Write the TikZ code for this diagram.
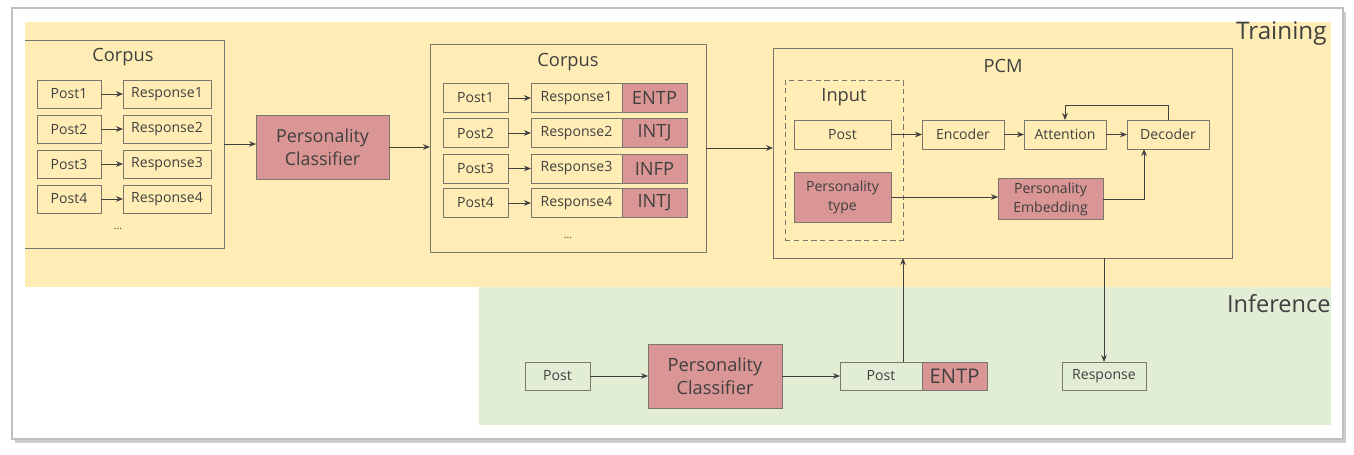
\documentclass[tikz,border=0pt]{standalone}
\usepackage{fontspec}
\setmainfont{Open Sans}
\usetikzlibrary{arrows.meta}

\begin{document}
\begin{tikzpicture}[x=0.02cm,y=-0.02cm,line width=0.55pt,color=black!75,
    >={Stealth[length=4pt,width=3.2pt]},
    box/.style={draw=boxgray,text=txtgray,font=\fontsize{8}{10.7}\selectfont,inner sep=1pt,outer sep=0pt,align=center},
    redbox/.style={box,fill=redfill},
    title/.style={text=txtgray,font=\fontsize{10.4}{13}\selectfont,inner sep=0pt}]

    \definecolor{trainyellow}{RGB}{255,237,181}
    \definecolor{infergreen}{RGB}{226,237,213}
    \definecolor{redfill}{RGB}{217,150,148}
    \definecolor{boxgray}{RGB}{120,120,110}
    \definecolor{txtgray}{RGB}{64,64,64}

    % Page frame with shadow
    \useasboundingbox (0,0) rectangle (1354,454);
    \fill[gray!40] (15,12) rectangle (1346,443);
    \filldraw[fill=white,draw=gray!50,line width=1.2pt] (12,8) rectangle (1343,439);

    % Training and inference areas
    \fill[trainyellow] (25,22) rectangle (1331,287);
    \fill[infergreen] (479,287) rectangle (1331,425);
    \node[anchor=east,inner sep=0pt,text=txtgray,font=\fontsize{13.8}{16}\selectfont] (trainLabel) at (1327,34) {Training};
    \node[anchor=east,inner sep=0pt,text=txtgray,font=\fontsize{13.4}{16}\selectfont] (inferLabel) at (1331,304) {Inference};

    % Corpus before classification
    \node[minimum width=3.98cm,minimum height=4.16cm,outer sep=0pt] (corpusA) at (124.5,144) {};
    \draw[boxgray] (corpusA.north west) -- (corpusA.north east) -- (corpusA.south east) -- (corpusA.south west);
    \node[title] (corpusAtitle) at (123,57) {Corpus};
    \node[box,minimum width=1.28cm,minimum height=0.56cm] (postA1) at (69,94) {Post1};
    \node[box,minimum width=1.76cm,minimum height=0.56cm] (respA1) at (167,94) {Response1};
    \node[box,minimum width=1.28cm,minimum height=0.56cm] (postA2) at (69,129) {Post2};
    \node[box,minimum width=1.76cm,minimum height=0.56cm] (respA2) at (167,129) {Response2};
    \node[box,minimum width=1.28cm,minimum height=0.56cm] (postA3) at (69,164) {Post3};
    \node[box,minimum width=1.76cm,minimum height=0.56cm] (respA3) at (167,164) {Response3};
    \node[box,minimum width=1.28cm,minimum height=0.56cm] (postA4) at (69,199) {Post4};
    \node[box,minimum width=1.76cm,minimum height=0.56cm] (respA4) at (167,199) {Response4};
    \draw[->] (postA1) -- (respA1);
    \draw[->] (postA2) -- (respA2);
    \draw[->] (postA3) -- (respA3);
    \draw[->] (postA4) -- (respA4);
    \node[text=txtgray,font=\fontsize{6}{7}\selectfont] (moreA) at (118,229) {...};

    % Classifier (training)
    \node[redbox,minimum width=2.66cm,minimum height=1.28cm,font=\fontsize{10.2}{13.3}\selectfont] (clsTrain) at (322.5,147) {Personality\\Classifier};

    % Corpus with personality labels
    \node[draw=boxgray,minimum width=5.52cm,minimum height=4.16cm,outer sep=0pt] (corpusB) at (568,148) {};
    \node[title] (corpusBtitle) at (568,62) {Corpus};
    \node[box,minimum width=1.3cm,minimum height=0.58cm] (postB1) at (475.5,98) {Post1};
    \node[box,minimum width=1.82cm,minimum height=0.58cm] (respB1) at (576.5,98) {Response1};
    \node[redbox,minimum width=1.3cm,minimum height=0.58cm,font=\fontsize{10.4}{12}\selectfont] (typeB1) at (654.5,98) {ENTP};
    \node[box,minimum width=1.3cm,minimum height=0.58cm] (postB2) at (475.5,133) {Post2};
    \node[box,minimum width=1.82cm,minimum height=0.58cm] (respB2) at (576.5,133) {Response2};
    \node[redbox,minimum width=1.3cm,minimum height=0.58cm,font=\fontsize{10.4}{12}\selectfont] (typeB2) at (654.5,133) {INTJ};
    \node[box,minimum width=1.3cm,minimum height=0.58cm] (postB3) at (475.5,168.5) {Post3};
    \node[box,minimum width=1.82cm,minimum height=0.58cm] (respB3) at (576.5,168.5) {Response3};
    \node[redbox,minimum width=1.3cm,minimum height=0.58cm,font=\fontsize{10.4}{12}\selectfont] (typeB3) at (654.5,168.5) {INFP};
    \node[box,minimum width=1.3cm,minimum height=0.58cm] (postB4) at (475.5,203) {Post4};
    \node[box,minimum width=1.82cm,minimum height=0.58cm] (respB4) at (576.5,203) {Response4};
    \node[redbox,minimum width=1.3cm,minimum height=0.58cm,font=\fontsize{10.4}{12}\selectfont] (typeB4) at (654.5,203) {INTJ};
    \draw[->] (postB1) -- (respB1);
    \draw[->] (postB2) -- (respB2);
    \draw[->] (postB3) -- (respB3);
    \draw[->] (postB4) -- (respB4);
    \node[text=txtgray,font=\fontsize{6}{7}\selectfont] (moreB) at (568,238) {...};

    % PCM model
    \node[draw=boxgray,minimum width=9.2cm,minimum height=4.2cm,outer sep=0pt] (pcm) at (1003,153) {};
    \node[title] (pcmTitle) at (1003,66) {PCM};
    \node[draw=boxgray,dash pattern=on 3pt off 2pt,minimum width=2.36cm,minimum height=3.2cm] (input) at (844,160) {};
    \node[title] (inputTitle) at (844,97) {Input};
    \node[box,minimum width=1.94cm,minimum height=0.58cm] (postIn) at (842.5,134.5) {Post};
    \node[box,minimum width=1.64cm,minimum height=0.58cm] (encoder) at (963,134.5) {Encoder};
    \node[box,minimum width=1.64cm,minimum height=0.58cm] (attention) at (1065,134.5) {Attention};
    \node[box,minimum width=1.64cm,minimum height=0.58cm] (decoder) at (1168,134.5) {Decoder};
    \node[redbox,minimum width=1.94cm,minimum height=1.0cm] (ptype) at (842.5,197) {Personality\\type};
    \node[redbox,minimum width=2.1cm,minimum height=0.82cm] (pemb) at (1050.5,199) {Personality\\Embedding};
    \draw[->] (postIn) -- (encoder);
    \draw[->] (encoder) -- (attention);
    \draw[->] (attention) -- (decoder);
    \draw[->] (decoder.north) -- ++(0,-15) -| (attention.north);
    \draw[->] (ptype.east) -- (ptype.east -| pemb.west);
    \draw[->] (pemb.east) -| ([xshift=-0.48cm]decoder.south);

    % Training flow
    \draw[->] (corpusA.east) -- (corpusA.east -| clsTrain.west);
    \draw[->] (clsTrain.east) -- (clsTrain.east -| corpusB.west);
    \draw[->] (corpusB.east) -- (corpusB.east -| pcm.west);

    % Inference flow
    \node[box,minimum width=1.3cm,minimum height=0.56cm] (postInf) at (557.5,376) {Post};
    \node[redbox,minimum width=2.68cm,minimum height=1.28cm,font=\fontsize{10.4}{13}\selectfont] (clsInfer) at (715,376) {Personality\\Classifier};
    \node[box,minimum width=1.64cm,minimum height=0.56cm] (postTag) at (881,376) {Post};
    \node[redbox,minimum width=1.3cm,minimum height=0.56cm,font=\fontsize{11.5}{13}\selectfont] (entpInf) at (954.5,376) {ENTP};
    \node[box,minimum width=1.68cm,minimum height=0.56cm] (resp) at (1104,376) {Response};
    \draw[->] (postInf) -- (clsInfer);
    \draw[->] (clsInfer) -- (postTag);
    \draw[->] ([xshift=0.44cm]postTag.north) -- ([xshift=0.44cm]postTag.north |- pcm.south);
    \draw[->] (pcm.south -| resp.north) -- (resp.north);

\end{tikzpicture}
\end{document}
